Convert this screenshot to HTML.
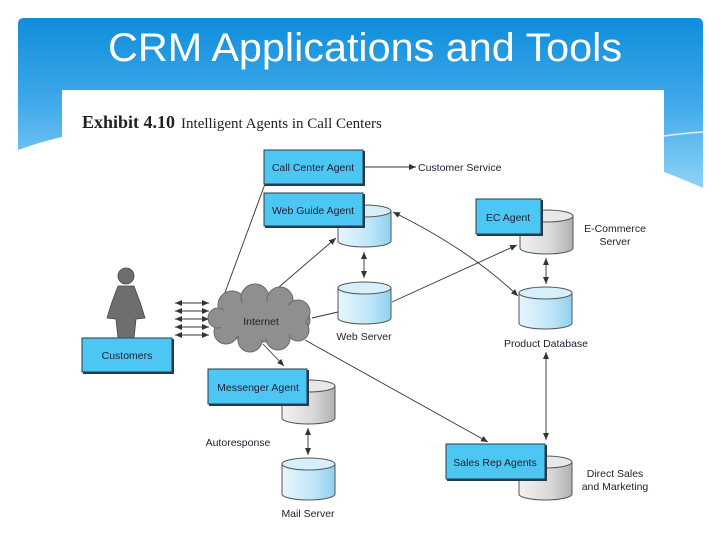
<!DOCTYPE html>
<html><head><style>
body{margin:0;width:720px;height:540px;overflow:hidden;background:#fff;font-family:"Liberation Sans",sans-serif}
</style></head><body>
<svg width="720" height="540" viewBox="0 0 720 540" xmlns="http://www.w3.org/2000/svg">
<defs>
<linearGradient id="bg" x1="0" y1="0" x2="0" y2="1">
<stop offset="0" stop-color="#0f8ddb"/><stop offset="0.5" stop-color="#3fa9ea"/><stop offset="1" stop-color="#8fd3f7"/></linearGradient>
<linearGradient id="cb" x1="0" y1="0" x2="1" y2="0">
<stop offset="0" stop-color="#e6f6fd"/><stop offset="0.6" stop-color="#bfe6f8"/><stop offset="1" stop-color="#8fd0ee"/></linearGradient>
<linearGradient id="cg" x1="0" y1="0" x2="1" y2="0">
<stop offset="0" stop-color="#f2f2f2"/><stop offset="0.6" stop-color="#d8d8d8"/><stop offset="1" stop-color="#b0b0b0"/></linearGradient>
<marker id="a" markerWidth="8" markerHeight="8" refX="7" refY="3" orient="auto-start-reverse" markerUnits="userSpaceOnUse"><path d="M0,0 L7,3 L0,6 z" fill="#333"/></marker>
<g id="cylB"><path d="M0,6 L0,36 A26.5,6 0 0 0 53,36 L53,6" fill="url(#cb)" stroke="#555" stroke-width="1"/><ellipse cx="26.5" cy="6" rx="26.5" ry="6" fill="#d6effb" stroke="#555"/></g>
<g id="cylG"><path d="M0,6 L0,38 A26.5,6 0 0 0 53,38 L53,6" fill="url(#cg)" stroke="#555" stroke-width="1"/><ellipse cx="26.5" cy="6" rx="26.5" ry="6" fill="#e8e8e8" stroke="#555"/></g>
</defs>
<path d="M24,18 L697,18 Q703,18 703,24 L703,188 Q680,178 664,172 L664,90 L62,90 L62,137 Q40,142 18,150 L18,24 Q18,18 24,18 z" fill="url(#bg)"/>
<path d="M664,136 Q685,133 703,132" stroke="#d8f1fc" stroke-width="1.5" fill="none"/>
<text x="365" y="61" text-anchor="middle" font-size="40" fill="#fff" textLength="514" lengthAdjust="spacingAndGlyphs">CRM Applications and Tools</text>
<rect x="62" y="90" width="602" height="450" fill="#fff"/>
<text x="82" y="128" font-family="Liberation Serif" font-size="18" fill="#222"><tspan font-weight="bold">Exhibit 4.10</tspan><tspan font-size="15" dx="6">Intelligent Agents in Call Centers</tspan></text>

<g stroke="#333" stroke-width="0.9" fill="none">
<line x1="363" y1="167" x2="416" y2="167" marker-end="url(#a)"/>
<line x1="265" y1="184" x2="223" y2="298"/>
<line x1="272" y1="293" x2="336" y2="238" marker-end="url(#a)"/>
<line x1="364" y1="252" x2="364" y2="278" marker-start="url(#a)" marker-end="url(#a)"/>
<line x1="392" y1="302" x2="517" y2="245" marker-end="url(#a)"/>
<path d="M393,212 Q470,250 518,296" marker-start="url(#a)" marker-end="url(#a)"/>
<line x1="546" y1="258" x2="546" y2="284" marker-start="url(#a)" marker-end="url(#a)"/>
<line x1="312" y1="318" x2="338" y2="312"/>
<line x1="263" y1="344" x2="284" y2="366" marker-end="url(#a)"/>
<line x1="305" y1="340" x2="488" y2="442" marker-end="url(#a)"/>
<line x1="546" y1="352" x2="546" y2="440" marker-start="url(#a)" marker-end="url(#a)"/>
<line x1="308" y1="428" x2="308" y2="455" marker-start="url(#a)" marker-end="url(#a)"/>
<line x1="175" y1="303" x2="209" y2="303" marker-start="url(#a)" marker-end="url(#a)"/>
<line x1="175" y1="311" x2="209" y2="311" marker-start="url(#a)" marker-end="url(#a)"/>
<line x1="175" y1="319" x2="209" y2="319" marker-start="url(#a)" marker-end="url(#a)"/>
<line x1="175" y1="327" x2="209" y2="327" marker-start="url(#a)" marker-end="url(#a)"/>
<line x1="175" y1="335" x2="209" y2="335" marker-start="url(#a)" marker-end="url(#a)"/>
</g>

<use href="#cylB" x="338" y="205"/>
<use href="#cylB" x="338" y="282"/>
<use href="#cylG" x="520" y="210"/>
<use href="#cylB" x="519" y="287"/>
<use href="#cylG" x="282" y="380"/>
<use href="#cylB" x="282" y="458"/>
<use href="#cylG" x="519" y="456"/>

<g fill="#4cc6f2" stroke="#2a3a4a" stroke-width="1">
<rect x="264" y="150" width="99" height="34"/>
<rect x="264" y="193" width="99" height="33"/>
<rect x="476" y="199" width="65" height="35"/>
<rect x="82" y="338" width="90" height="34"/>
<rect x="208" y="369" width="99" height="35"/>
<rect x="446" y="444" width="99" height="35"/>
</g>
<g stroke="#2a3a4a" stroke-width="2" fill="none">
<path d="M265,185 L364,185 L364,151"/><path d="M265,227 L364,227 L364,194"/>
<path d="M477,235 L542,235 L542,200"/><path d="M83,373 L173,373 L173,339"/>
<path d="M209,405 L308,405 L308,370"/><path d="M447,480 L546,480 L546,445"/>
</g>

<g fill="#8f8f8f" stroke="#6a6a6a" stroke-width="1">
<ellipse cx="262" cy="320" rx="48" ry="22"/>
<circle cx="232" cy="305" r="14"/><circle cx="255" cy="298" r="14"/><circle cx="280" cy="300" r="13"/><circle cx="298" cy="312" r="12"/>
<circle cx="298" cy="330" r="11"/><circle cx="278" cy="338" r="12"/><circle cx="250" cy="340" r="12"/><circle cx="226" cy="332" r="12"/><circle cx="218" cy="318" r="10"/>
</g>
<ellipse cx="262" cy="320" rx="44" ry="19" fill="#8f8f8f"/>

<g fill="#6e6e6e" stroke="#444" stroke-width="0.8">
<circle cx="126" cy="276" r="8"/>
<path d="M118,286 L134,286 L140,302 L145,318 L136,319 L134,338 L118,338 L116,319 L107,318 L112,302 z"/>
</g>

<g font-size="10.5" fill="#223">
<text x="313" y="171" text-anchor="middle">Call Center Agent</text>
<text x="313" y="214" text-anchor="middle">Web Guide Agent</text>
<text x="508" y="221" text-anchor="middle">EC Agent</text>
<text x="127" y="359" text-anchor="middle">Customers</text>
<text x="258" y="391" text-anchor="middle">Messenger Agent</text>
<text x="495" y="466" text-anchor="middle">Sales Rep Agents</text>
<text x="261" y="325" text-anchor="middle" fill="#222">Internet</text>
<text x="418" y="171">Customer Service</text>
<text x="364" y="340" text-anchor="middle">Web Server</text>
<text x="615" y="232" text-anchor="middle">E-Commerce</text>
<text x="615" y="245" text-anchor="middle">Server</text>
<text x="546" y="347" text-anchor="middle">Product Database</text>
<text x="238" y="446" text-anchor="middle">Autoresponse</text>
<text x="308" y="517" text-anchor="middle">Mail Server</text>
<text x="615" y="477" text-anchor="middle">Direct Sales</text>
<text x="615" y="490" text-anchor="middle">and Marketing</text>
</g>
</svg>
</body></html>
